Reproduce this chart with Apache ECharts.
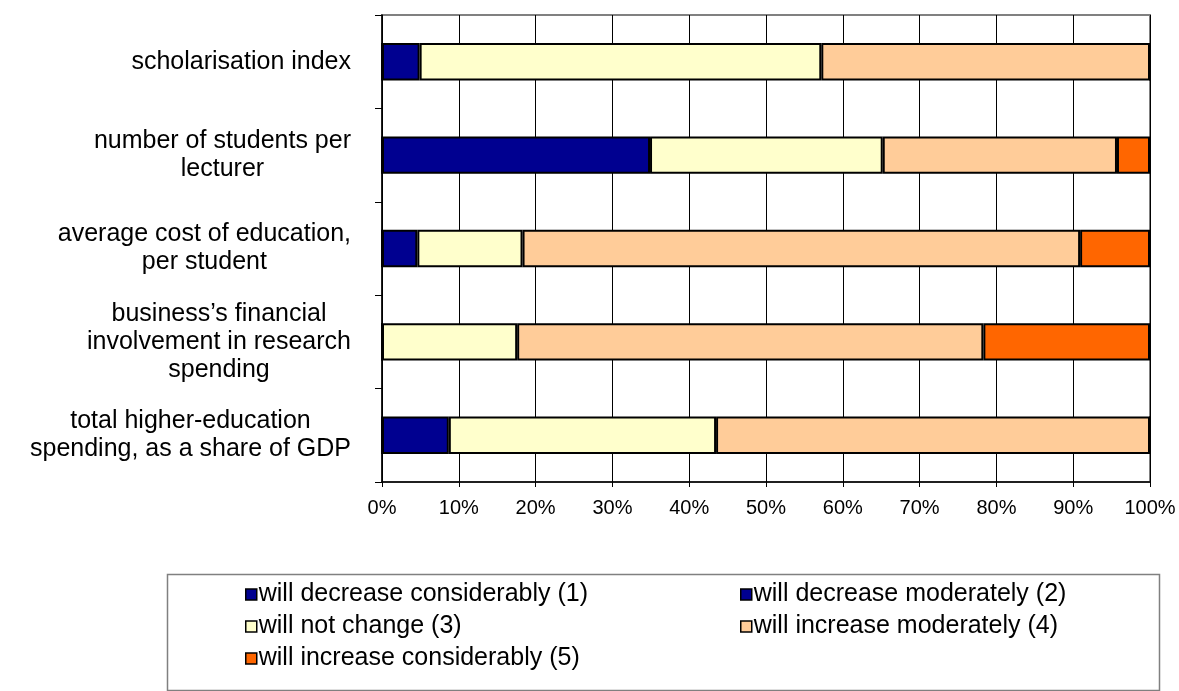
<!DOCTYPE html>
<html>
<head>
<meta charset="utf-8">
<style>
  html, body { margin: 0; padding: 0; background: #ffffff; }
  #chart { width: 1179px; height: 691px; }
</style>
<script src="https://cdn.jsdelivr.net/npm/echarts@6/dist/echarts.min.js"></script>
</head>
<body>
<div id="chart"></div>
<script>
// Expected change of higher-education indicators (share of answers, %)
const categories = [
  'scholarisation index',
  'number of students per\nlecturer',
  'average cost of education,\nper student',
  'business\u2019s financial\ninvolvement in research\nspending',
  'total higher-education\nspending, as a share of GDP'
];
const seriesNames = [
  'will decrease considerably (1)',
  'will decrease moderately (2)',
  'will not change (3)',
  'will increase moderately (4)',
  'will increase considerably (5)'
];
const decreaseConsiderably = [0, 0, 0, 0, 0];
const decreaseModerately   = [4.9, 34.9, 4.6, 0, 8.7];
const noChange             = [52.3, 30.3, 13.7, 17.6, 34.8];
const increaseModerately   = [42.8, 30.5, 72.6, 60.7, 56.5];
const increaseConsiderably = [0, 4.3, 9.1, 21.7, 0];
const xTicks = [0, 10, 20, 30, 40, 50, 60, 70, 80, 90, 100];

const seriesData = [decreaseConsiderably, decreaseModerately, noChange, increaseModerately, increaseConsiderably];
const colors = ['#000090', '#000090', '#FFFFCC', '#FFCC99', '#FF6600'];
const FONT = '"Liberation Sans", Arial, Helvetica, sans-serif';

const chart = echarts.init(document.getElementById('chart'), null, { renderer: 'canvas' });

const legendCommon = {
  orient: 'vertical',
  icon: 'rect',
  itemWidth: 11,
  itemHeight: 11,
  itemGap: 7,
  itemStyle: { borderColor: '#000000', borderWidth: 1.5 },
  textStyle: { fontFamily: FONT, fontSize: 25, color: '#000000', lineHeight: 25, padding: [0, 0, 0, -3] },
  selectedMode: false
};

chart.setOption({
  animation: false,
  backgroundColor: '#ffffff',
  color: colors,
  grid: {
    left: 382, right: 29, top: 15, bottom: 209,
    show: true, borderColor: '#808080', borderWidth: 2, backgroundColor: 'transparent'
  },
  xAxis: {
    type: 'value',
    min: xTicks[0],
    max: xTicks[xTicks.length - 1],
    interval: xTicks[1] - xTicks[0],
    axisLine: { show: true, lineStyle: { color: '#000000', width: 1.5 } },
    axisTick: { show: true, length: 5, lineStyle: { color: '#000000' } },
    splitLine: { show: true, lineStyle: { color: '#000000', width: 1 } },
    axisLabel: { formatter: '{value}%', fontFamily: FONT, fontSize: 20, color: '#000000', margin: 16 }
  },
  yAxis: {
    type: 'category',
    inverse: true,
    data: categories,
    axisLine: { show: true, lineStyle: { color: '#000000', width: 1.5 } },
    axisTick: { show: true, length: 7, alignWithLabel: false, lineStyle: { color: '#000000' } },
    splitLine: { show: false },
    axisLabel: {
      margin: 31,
      align: 'right',
      // each line is centred inside the label block
      formatter: v => v.split('\n').map(s => '{c|' + s + '}').join('\n'),
      rich: {
        c: { align: 'center', fontFamily: FONT, fontSize: 25, color: '#000000', lineHeight: 28 }
      }
    }
  },
  legend: [
    Object.assign({ left: 240, top: 577, data: [seriesNames[0], seriesNames[2], seriesNames[4]] }, legendCommon),
    Object.assign({ left: 735, top: 577, data: [seriesNames[1], seriesNames[3]] }, legendCommon)
  ],
  graphic: [{
    type: 'rect',
    left: 165, top: 572,
    shape: { width: 992, height: 116 },
    style: { fill: 'none', stroke: '#808080', lineWidth: 1.5 },
    silent: true
  }],
  series: seriesNames.map((name, i) => ({
    name: name,
    type: 'bar',
    stack: 'total',
    barWidth: '40%',
    data: seriesData[i],
    itemStyle: { color: colors[i], borderColor: '#000000', borderWidth: 2 },
    emphasis: { disabled: true }
  }))
});
</script>
</body>
</html>
